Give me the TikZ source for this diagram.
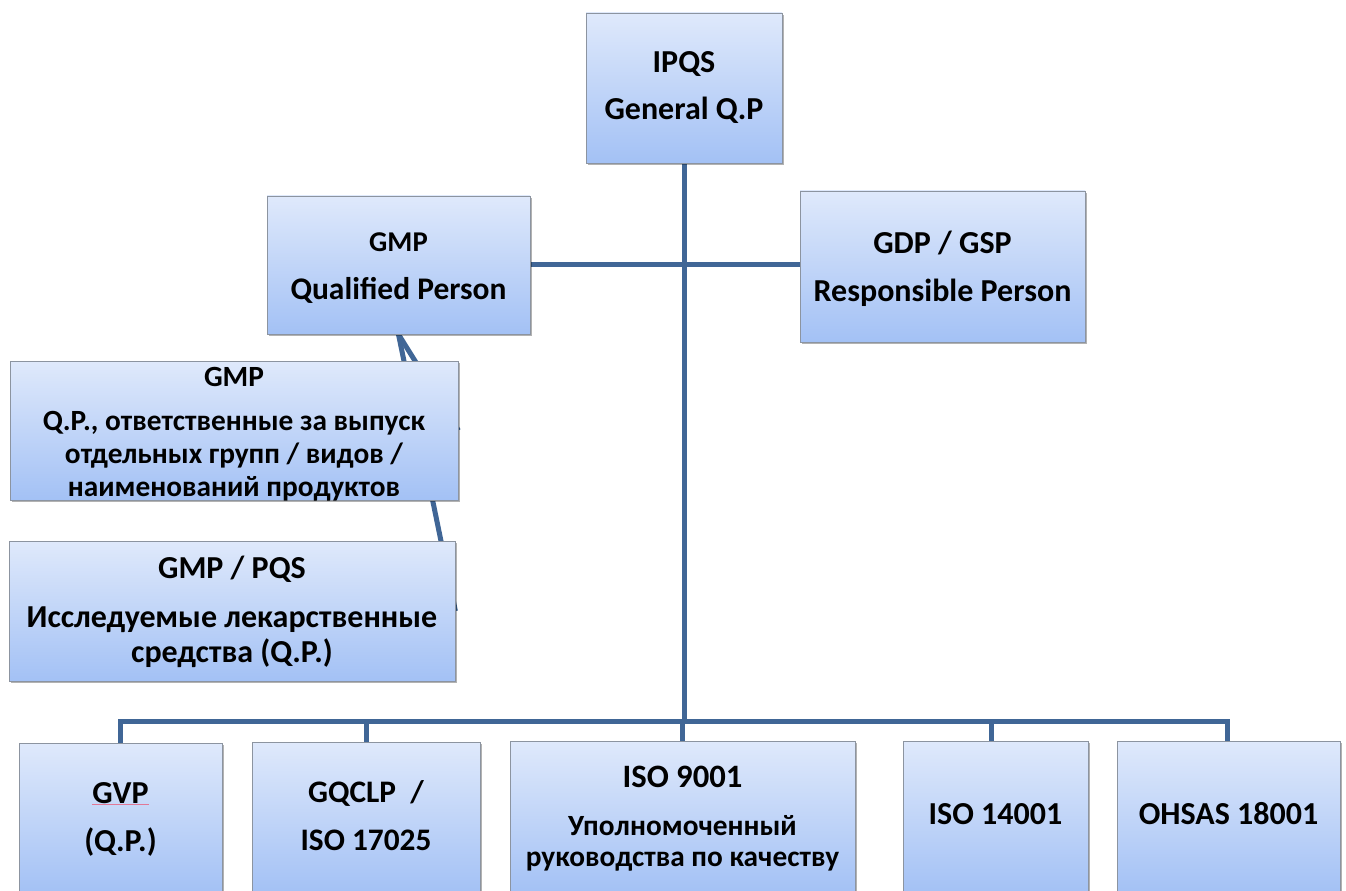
\documentclass[tikz,border=0pt]{standalone}
\usepackage{fontspec}
\setmainfont{Carlito}
\usetikzlibrary{fit,shadows,backgrounds}
\definecolor{boxtop}{RGB}{223,233,251}
\definecolor{boxbot}{RGB}{163,193,245}
\definecolor{boxrim}{RGB}{140,148,160}
\definecolor{wire}{RGB}{64,102,150}
\definecolor{spell}{RGB}{225,120,150}
% Centred lines of text; #1 = height of the first baseline above the box centre,
% #2 = baseline distance, #3 = rows separated by \cr
\newcommand\boxlines[3]{%
  \raisebox{#1}[0pt][0pt]{\vtop{\baselineskip=#2\lineskiplimit=-\maxdimen
    \halign{\hfil##\hfil\cr#3\crcr}}}}
\newcommand\gap[1]{\noalign{\vskip#1}}
\newcommand\fs[1]{\fontsize{#1}{#1}\selectfont}
% word with a thin marker line under it
\newcommand\marked[1]{\sbox0{#1}\rlap{\textcolor{spell}{\rule[-1.2pt]{\wd0}{0.7pt}}}\box0}
\begin{document}
\begin{tikzpicture}[x=0.75pt,y=-0.75pt,
  box/.style={draw=boxrim, line width=0.6pt, top color=boxtop, bottom color=boxbot,
    inner sep=0pt, font=\bfseries\fs{24},
    drop shadow={shadow xshift=1.5pt, shadow yshift=-1.5pt, opacity=0.3, fill=black}},
  wire/.style={draw=wire, line width=3.75pt, line join=miter}]
\useasboundingbox (0,0) rectangle (1346,891);
\clip (0,0) rectangle (1346,891);

% top level
\node[box, fit={(586,13) (782,163)}] (ipqs)
  {\boxlines{11.25pt}{35.25pt}{IPQS\cr General Q.P}};
\node[box, fit={(267,196) (530,334)}] (gmpqp)
  {\boxlines{9.75pt}{36pt}{\fs{21.5}GMP\cr \fs{23.6}Qualified Person}};
\node[box, fit={(800,191) (1085,342)}] (gdp)
  {\boxlines{9.4pt}{36pt}{GDP / GSP\cr Responsible Person}};

% GMP sub-boxes
\node[box, fit={(10,361) (458,500)}] (gmprel)
  {\boxlines{33pt}{24.75pt}{\fs{22}GMP\cr\gap{8.25pt}
    \fs{22}Q.P., ответственные за выпуск\cr
    \fs{22}отдельных групп / видов /\cr
    \fs{22}наименований продуктов}};
\node[box, fit={(9,541) (455,681)}] (gmppqs)
  {\boxlines{24.75pt}{26.25pt}{GMP / PQS\cr\gap{10.5pt}
    Исследуемые лекарственные\cr средства (Q.P.)}};

% bottom row
\node[box, fit={(19,743) (222,893)}] (gvp)
  {\boxlines{10.9pt}{36pt}{\marked{GVP}\cr (Q.P.)}};
\node[box, fit={(252,742) (480,893)}] (gqclp)
  {\boxlines{11.6pt}{36pt}{\fs{23.5}GQCLP\ \ /\cr \fs{23.5}ISO 17025}};
\node[box, fit={(510,741) (855,893)}] (iso9)
  {\boxlines{22pt}{23.25pt}{\fs{24.5}ISO 9001\cr\gap{12.75pt}
    \fs{22}Уполномоченный\cr \fs{22}руководства по качеству}};
\node[box, fit={(903,741) (1088,893)}] (iso14)
  {\boxlines{-5.6pt}{24pt}{ISO 14001}};
\node[box, fit={(1117,741) (1340,893)}] (ohsas)
  {\boxlines{-5.6pt}{24pt}{OHSAS 18001}};

% connectors, kept behind the boxes
\begin{scope}[on background layer]
  \coordinate (bus) at (0,721);
  \draw[wire] (ipqs.south) -- (ipqs.south |- bus);
  \draw[wire] (gmpqp.east) -- (gmpqp.east -| gdp.west);
  \draw[wire] (gvp.north) |- ([xshift=-0.5pt]ohsas.north |- bus) -- ([xshift=-0.5pt]ohsas.north);
  \draw[wire] (gqclp.north) -- (gqclp.north |- bus);
  \draw[wire] (iso9.north) -- (iso9.north |- bus);
  \draw[wire] ([xshift=-3pt]iso14.north) -- ([xshift=-3pt]iso14.north |- bus);
  \draw[wire] (gmpqp.south) -- (gmprel.east);
  \draw[wire] (gmpqp.south) -- (gmppqs.east);
\end{scope}
\end{tikzpicture}
\end{document}
